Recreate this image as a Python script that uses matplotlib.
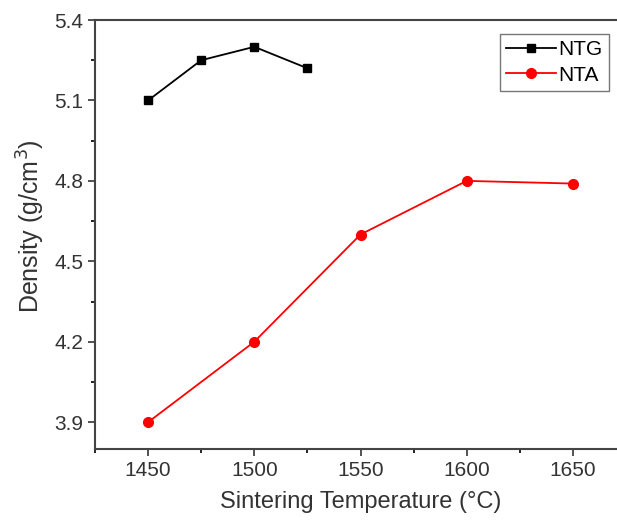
import matplotlib
matplotlib.use('Agg')
import matplotlib.pyplot as plt
from matplotlib.ticker import MultipleLocator

plt.rcParams['font.family'] = ['Liberation Sans', 'DejaVu Sans']

# data
ntg_temp = [1450, 1475, 1500, 1525]
ntg_density = [5.10, 5.25, 5.30, 5.22]
nta_temp = [1450, 1500, 1550, 1600, 1650]
nta_density = [3.90, 4.20, 4.60, 4.80, 4.79]

fig = plt.figure(figsize=(6.17, 5.30), dpi=100)
ax = fig.add_axes([95 / 617, 81 / 530, 531 / 617, 429 / 530])

ax.plot(ntg_temp, ntg_density, color='black', marker='s', markersize=6, linewidth=1.3, label='NTG')
ax.plot(nta_temp, nta_density, color='red', marker='o', markersize=7, linewidth=1.3, label='NTA')

ax.set_xlim(1425, 1675)
ax.set_ylim(3.8, 5.4)
ax.xaxis.set_major_locator(MultipleLocator(50))
ax.xaxis.set_minor_locator(MultipleLocator(25))
ax.set_yticks([3.9, 4.2, 4.5, 4.8, 5.1, 5.4])
ax.yaxis.set_minor_locator(MultipleLocator(0.15))
ax.yaxis.set_major_formatter(matplotlib.ticker.FormatStrFormatter('%.1f'))

ax.tick_params(which='major', direction='out', length=5, width=1.2, labelsize=15, colors='#333333')
ax.tick_params(which='minor', direction='out', length=3, width=1.2)
for spine in ax.spines.values():
    spine.set_linewidth(1.5)
    spine.set_color('#444444')

ax.set_xlabel('Sintering Temperature (\u00b0C)', fontsize=17, color='#333333', labelpad=8)
ax.set_ylabel('Density (g/cm$^3$)', fontsize=18, color='#333333')
ax.yaxis.set_label_coords(-0.09, 0.52)

ax.legend(loc='upper left', bbox_to_anchor=(0.763, 0.967), fontsize=15, frameon=True,
          fancybox=False, edgecolor='#555555', handlelength=2.4, borderpad=0.3,
          labelspacing=0.3, handletextpad=0.1, borderaxespad=0)

fig.savefig('out.png', dpi=100)
